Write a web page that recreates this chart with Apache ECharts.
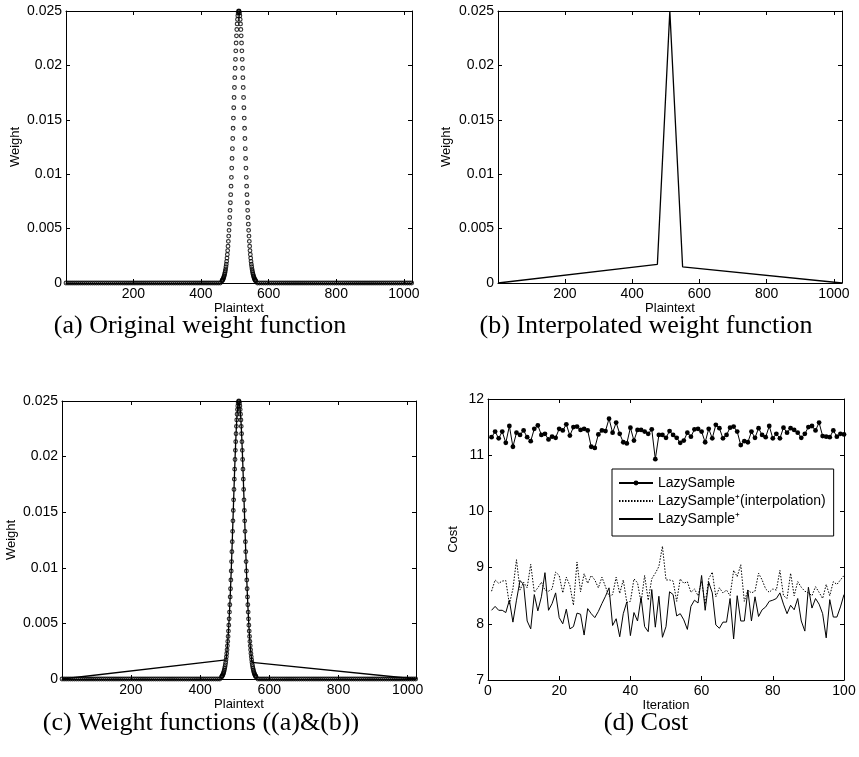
<!DOCTYPE html>
<html><head><meta charset="utf-8">
<script src="https://cdn.jsdelivr.net/npm/echarts@6/dist/echarts.min.js"></script>
<style>html,body{margin:0;padding:0;background:#fff}#c{width:859px;height:757px}</style>
</head><body><div id="c"></div>
<script>
// ---------- data ----------
// Original weight function: plaintext positions and weights near the peak
const peakX = [462,463,464,465,466,467,468,469,470,471,472,473,474,475,476,477,478,479,480,481,482,483,484,485,486,487,488,489,490,491,492,493,494,495,496,497,498,499,500,501,502,503,504,505,506,507,508,509,510,511,512,513,514,515,516,517,518,519,520,521,522,523,524,525,526,527,528,529,530,531,532,533,534,535,536,537,538,539,540,541,542,543,544,545,546,547,548,549,550,551,552,553,554,555,556,557,558,559,560,561,562];
const peakW = [0.00019,0.00023,0.00028,0.00033,0.00040,0.00048,0.00057,0.00068,0.00080,0.00094,
  0.00110,0.00128,0.00149,0.00172,0.00199,0.00229,0.00262,0.00298,0.00338,0.00383,
  0.00431,0.00484,0.00541,0.00602,0.00668,0.00738,0.00812,0.00890,0.00971,0.01056,
  0.01145,0.01235,0.01328,0.01422,0.01516,0.01611,0.01705,0.01797,0.01887,0.01974,
  0.02056,0.02134,0.02206,0.02272,0.02330,0.02381,0.02423,0.02456,0.02481,0.02495,
  0.02500,
  0.02495,0.02481,0.02456,0.02423,0.02381,0.02330,0.02272,0.02206,0.02134,0.02056,
  0.01974,0.01887,0.01797,0.01705,0.01611,0.01516,0.01422,0.01328,0.01235,0.01145,
  0.01056,0.00971,0.00890,0.00812,0.00738,0.00668,0.00602,0.00541,0.00484,0.00431,
  0.00383,0.00338,0.00298,0.00262,0.00229,0.00199,0.00172,0.00149,0.00128,0.00110,
  0.00094,0.00080,0.00068,0.00057,0.00048,0.00040,0.00033,0.00028,0.00023,0.00019];
// flat tails (weight 0)
const tailX = [1,7,13,19,25,31,37,43,49,55,61,67,73,79,85,91,97,103,109,115,121,127,133,139,145,151,157,163,169,175,181,187,193,199,205,211,217,223,229,235,241,247,253,259,265,271,277,283,289,295,301,307,313,319,325,331,337,343,349,355,361,367,373,379,385,391,397,403,409,415,421,427,433,439,445,451,457,
  567,573,579,585,591,597,603,609,615,621,627,633,639,645,651,657,663,669,675,681,687,693,699,705,711,717,723,729,735,741,747,753,759,765,771,777,783,789,795,801,807,813,819,825,831,837,843,849,855,861,867,873,879,885,891,897,903,909,915,921,927,933,939,945,951,957,963,969,975,981,987,993,999,1005,1011,1017,1023];
const tailW = 0;
// Interpolated weight function knots
const interpX = [1, 475, 512, 550, 1024];
const interpW = [0, 0.00172, 0.02500, 0.00149, 0];
const plainTicks = [200, 400, 600, 800, 1000];

// Cost per iteration
const iteration = [1,2,3,4,5,6,7,8,9,10,11,12,13,14,15,16,17,18,19,20,21,22,23,24,25,26,27,28,29,30,31,32,33,34,35,36,37,38,39,40,41,42,43,44,45,46,47,48,49,50,51,52,53,54,55,56,57,58,59,60,61,62,63,64,65,66,67,68,69,70,71,72,73,74,75,76,77,78,79,80,81,82,83,84,85,86,87,88,89,90,91,92,93,94,95,96,97,98,99,100];
const lazySample = [11.32,11.42,11.30,11.42,11.22,11.52,11.15,11.40,11.36,11.44,11.32,11.25,11.47,11.53,11.36,11.38,11.28,11.33,11.31,11.47,
  11.44,11.55,11.35,11.50,11.51,11.45,11.47,11.44,11.15,11.13,11.37,11.44,11.43,11.65,11.40,11.58,11.38,11.23,11.21,11.49,
  11.26,11.45,11.45,11.42,11.38,11.46,10.93,11.36,11.36,11.31,11.43,11.36,11.31,11.22,11.26,11.40,11.33,11.46,11.47,11.42,
  11.23,11.47,11.30,11.54,11.48,11.30,11.36,11.49,11.51,11.42,11.18,11.25,11.23,11.42,11.31,11.48,11.36,11.32,11.52,11.30,
  11.38,11.30,11.49,11.40,11.48,11.45,11.40,11.31,11.38,11.50,11.52,11.44,11.58,11.34,11.33,11.32,11.44,11.33,11.38,11.37];
const lazyInterp = [8.58,8.78,8.72,8.76,8.77,8.35,8.62,9.14,8.60,8.74,8.64,9.06,8.56,8.64,8.74,8.60,8.58,8.62,8.92,8.86,
  8.55,8.83,8.68,8.33,9.10,8.57,8.89,8.72,8.86,8.78,8.64,8.83,8.66,8.49,8.52,8.83,8.54,8.78,8.38,8.40,
  8.80,8.73,8.38,8.86,8.42,8.80,8.90,9.02,9.38,8.78,8.78,8.76,8.40,8.80,8.72,8.75,8.56,8.62,8.50,8.76,
  8.35,8.80,8.92,8.48,8.64,8.55,8.60,8.50,8.95,8.84,9.05,8.40,8.60,8.55,8.58,8.90,8.78,8.62,8.56,8.62,
  8.60,8.95,8.50,8.45,8.90,8.50,8.75,8.65,8.58,8.55,8.50,8.66,8.56,8.45,8.70,8.50,8.75,8.70,8.78,8.86];
const lazyPlus = [8.24,8.31,8.24,8.24,8.20,8.42,8.03,8.42,8.77,8.70,8.05,7.91,8.52,8.23,8.48,8.91,8.24,8.36,8.55,8.11,
  8.00,8.26,7.91,7.95,8.19,8.17,7.80,8.27,8.18,8.11,8.22,8.36,8.49,8.64,7.97,8.09,7.77,8.18,8.39,7.79,
  8.20,8.05,8.47,7.95,7.86,8.61,7.94,8.49,7.76,7.95,8.57,8.52,8.14,8.18,8.07,7.90,8.31,8.42,8.37,8.86,
  8.24,8.74,8.55,7.98,7.92,8.03,8.03,8.45,7.73,8.50,8.05,8.05,8.60,8.05,8.48,8.13,8.25,8.30,8.40,8.42,
  8.45,8.55,8.35,8.18,8.33,8.25,8.45,8.05,7.87,8.65,8.28,8.45,8.35,8.18,7.75,8.43,8.12,8.12,8.30,8.52];
const seriesNames = ['LazySample', 'LazySample\u207A(interpolation)', 'LazySample\u207A'];
const captions = ['(a) Original weight function', '(b) Interpolated weight function', '(c) Weight functions ((a)&(b))', '(d) Cost'];

// ---------- build ----------
const FONT = '"Liberation Sans", Arial, sans-serif';
const pair = (xs, ys) => xs.map((x, i) => [x, Array.isArray(ys) ? ys[i] : ys]);
const origPts = pair(tailX, tailW).concat(pair(peakX, peakW));
const interpPts = pair(interpX, interpW);
const combinedLine = [interpPts[0]].concat(pair(peakX, peakW).filter(p => p[0] >= interpX[1] && p[0] <= interpX[3])).concat([interpPts[4]]);

const grids = [
  {left: 66, top: 11, width: 346, height: 272},
  {left: 498, top: 11, width: 344, height: 272},
  {left: 62, top: 401, width: 354, height: 278},
  {left: 488, top: 399, width: 356, height: 281}
];
const xAxis = [], yAxis = [];
const axLine = {show: true, onZero: false, lineStyle: {color: '#000', width: 1}};
function tick(cv) { const t = {show: true, inside: true, length: 4, lineStyle: {color: '#000', width: 1}}; if (cv) t.customValues = cv; return t; }
function label(show, cv, margin) {
  const l = {show: show, color: '#000', fontFamily: FONT, fontSize: 14, margin: margin, formatter: v => String(+(+v).toFixed(6))};
  if (cv) l.customValues = cv; return l;
}
function addPanel(gi, xc, yc) {
  const xBase = {type: 'value', gridIndex: gi, min: xc.min, max: xc.max, interval: xc.interval, splitLine: {show: false}, axisLine: axLine};
  xAxis.push(Object.assign({}, xBase, {position: 'bottom', axisTick: tick(xc.ticks), axisLabel: label(true, xc.ticks, 4),
    name: xc.name, nameLocation: 'middle', nameGap: 12, nameTextStyle: {color: '#000', fontFamily: FONT, fontSize: 13}}));
  xAxis.push(Object.assign({}, xBase, {position: 'top', axisTick: tick(xc.ticks), axisLabel: {show: false}}));
  const yBase = {type: 'value', gridIndex: gi, min: yc.min, max: yc.max, interval: yc.interval, splitLine: {show: false}, axisLine: axLine};
  yAxis.push(Object.assign({}, yBase, {position: 'left', axisTick: tick(), axisLabel: label(true, null, 4),
    name: yc.name, nameLocation: 'middle', nameGap: yc.gap, nameTextStyle: {color: '#000', fontFamily: FONT, fontSize: 13}}));
  yAxis.push(Object.assign({}, yBase, {position: 'right', axisTick: tick(), axisLabel: {show: false}}));
}
const wY = {min: 0, max: 0.025, interval: 0.005, name: 'Weight', gap: 44};
const pX = {min: 1, max: 1024, ticks: plainTicks, name: 'Plaintext'};
addPanel(0, pX, wY);
addPanel(1, pX, Object.assign({}, wY, {gap: 45}));
addPanel(2, pX, wY);
addPanel(3, {min: 0, max: 100, interval: 20, name: 'Iteration'}, {min: 7, max: 12, interval: 1, name: 'Cost', gap: 28});

const dotStyle = {color: 'rgba(0,0,0,0)', borderColor: '#000', borderWidth: 1.15};
const series = [
  {type: 'scatter', xAxisIndex: 0, yAxisIndex: 0, data: origPts, symbol: 'circle', symbolSize: 3.7, itemStyle: dotStyle, clip: false, silent: true},
  {type: 'line', xAxisIndex: 2, yAxisIndex: 2, data: interpPts, symbol: 'none', lineStyle: {color: '#000', width: 1.3}, silent: true},
  {type: 'scatter', xAxisIndex: 4, yAxisIndex: 4, data: origPts, symbol: 'circle', symbolSize: 3.7, itemStyle: dotStyle, clip: false, silent: true},
  {type: 'line', xAxisIndex: 4, yAxisIndex: 4, data: combinedLine, symbol: 'none', lineStyle: {color: '#000', width: 1.3}, silent: true},
  {type: 'line', name: seriesNames[0], xAxisIndex: 6, yAxisIndex: 6, data: pair(iteration, lazySample), symbol: 'circle', symbolSize: 4.8, showSymbol: true,
    itemStyle: {color: '#000'}, lineStyle: {color: '#000', width: 1}, silent: true},
  {type: 'line', name: seriesNames[1], xAxisIndex: 6, yAxisIndex: 6, data: pair(iteration, lazyInterp), symbol: 'none',
    itemStyle: {color: '#000'}, lineStyle: {color: '#000', width: 1, type: [1.5, 1.5]}, silent: true},
  {type: 'line', name: seriesNames[2], xAxisIndex: 6, yAxisIndex: 6, data: pair(iteration, lazyPlus), symbol: 'none',
    itemStyle: {color: '#000'}, lineStyle: {color: '#000', width: 1}, silent: true}
];
const capPos = [[200, 326], [646, 326], [201, 723], [646, 723]];
const graphic = captions.map((t, i) => ({type: 'text', x: capPos[i][0], y: capPos[i][1], silent: true,
  style: {text: t, align: 'center', verticalAlign: 'middle', textAlign: 'center', textVerticalAlign: 'middle',
    font: '26px "Liberation Serif", serif', fill: '#000'}}));

const chart = echarts.init(document.getElementById('c'), null, {renderer: 'canvas'});
chart.setOption({
  animation: false,
  backgroundColor: '#fff',
  grid: grids,
  xAxis: xAxis, yAxis: yAxis,
  legend: {
    data: seriesNames.map((n, i) => i === 0 ? {name: n} : {name: n, itemStyle: {opacity: 0, color: 'rgba(0,0,0,0)', borderWidth: 0}}),
    orient: 'vertical', left: 612, top: 469, itemWidth: 34, itemHeight: 6, itemGap: 4,
    padding: [7, 8, 10, 6], borderColor: '#000', borderWidth: 1, backgroundColor: '#fff', selectedMode: false,
    textStyle: {color: '#000', fontFamily: FONT, fontSize: 14, lineHeight: 14}},
  series: series,
  graphic: graphic
});
</script></body></html>
